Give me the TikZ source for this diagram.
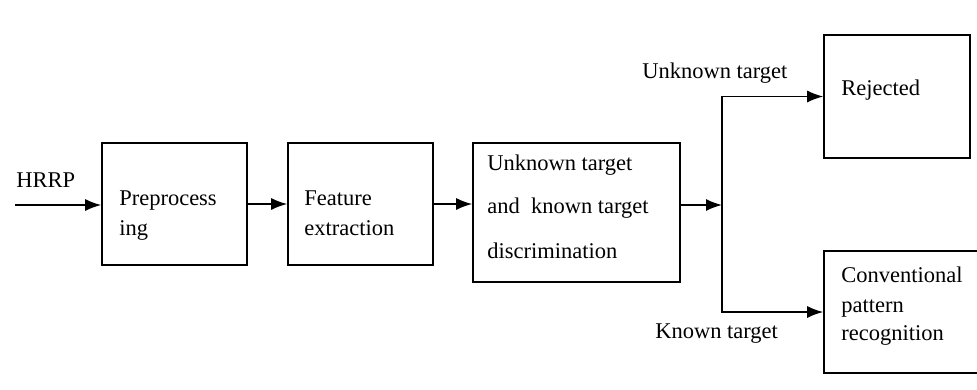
\documentclass[tikz,border=0pt]{standalone}
\usepackage{fontspec}
\setmainfont{Liberation Serif}
\usepackage{tikz}
\usetikzlibrary{arrows.meta, positioning}

\begin{document}
\begin{tikzpicture}[
          x=0.025cm, y=-0.025cm,
          font=\fontsize{16}{21}\selectfont,
          blk/.style={draw, line width=1.1pt, inner sep=0pt,
                      minimum width=3.625cm, minimum height=3.05cm},
          txt/.style={anchor=base west, inner sep=0pt, align=left},
          arr/.style={-{Latex[length=4mm, width=3mm]}, line width=1.1pt}
        ]
          \useasboundingbox (0,0) rectangle (977,389);
          \clip (0,0) rectangle (977,389);
          % blocks
          \node[blk] (pre)  at (174.5,204) {};
          \node[blk] (feat) at (360.5,204) {};
          \node[blk, minimum width=5.175cm, minimum height=3.475cm] (disc) at (576.5,212.5) {};
          \node[blk, minimum width=3.65cm, minimum height=3.075cm] (rej) at (897,96.5) {};
          \node[blk, minimum width=4.15cm] (conv) at (907,312) {};
          % texts
          \node[txt] (hrrp) at (16,187) {HRRP};
          \node[txt] (pretxt) at (119,205) {Preprocess};
          \node[txt] (pretxt2) at (119,235) {ing};
          \node[txt] (feattxt) at (304,205) {Feature};
          \node[txt] (feattxt2) at (304,235) {extraction};
          \node[txt] (disctxt) at (487,170) {Unknown target};
          \node[txt] (disctxt2) at (487,213) {and~ known target};
          \node[txt] (disctxt3) at (487,258) {discrimination};
          \node[txt] (rejtxt) at (841,95) {Rejected};
          \node[txt] (convtxt) at (841,282) {Conventional};
          \node[txt] (convtxt2) at (841,312) {pattern};
          \node[txt] (convtxt3) at (841,340) {recognition};
          \node[txt] (unk) at (642,78) {Unknown target};
          \node[txt] (kno) at (655,338) {Known target};
          % connectors
          \coordinate (in) at (15,205);
          \coordinate (split) at (722,205);
          \draw[arr] (in) -- (in -| pre.west);
          \draw[arr] (pre) -- (feat);
          \draw[arr] (feat.east) -- (feat.east -| disc.west);
          \draw[arr] (disc.east |- split) -- (split);
          \draw[arr] (split) |- (rej.west);
          \draw[arr] (split) |- (conv.west);
        \end{tikzpicture}
\end{document}
